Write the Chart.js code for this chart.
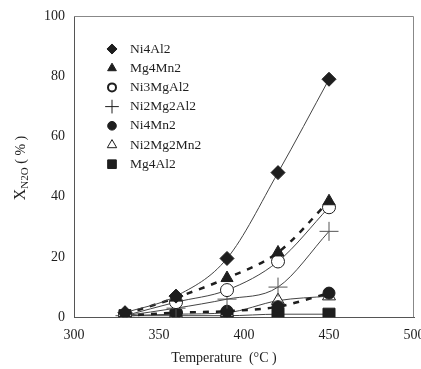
<!DOCTYPE html>
<html>
<head>
<meta charset="utf-8">
<script src="https://cdn.jsdelivr.net/npm/chart.js@4/dist/chart.umd.min.js"></script>
<style>
  body { margin: 0; background: #fff; }
  #wrap { width: 421px; height: 369px; }
</style>
</head>
<body>
<div id="wrap"><canvas id="chart"></canvas></div>
<script>
// data
const temps = [330, 360, 390, 420, 450];
const ni4al2 = [1.5, 7, 19.5, 48, 79];
const mg4mn2 = [1, 6.5, 13, 21.5, 38.5];
const ni3mgal2 = [0.5, 5, 9, 18.5, 36.5];
const ni2mg2al2 = [0.5, 3, 6, 10, 28.5];
const ni4mn2 = [0.5, 1.5, 2, 3.5, 8];
const ni2mg2mn2 = [0.5, 1, 1.5, 5.5, 7];
const mg4al2 = [0.5, 0.5, 0.5, 1, 1];
const xTicks = [300, 350, 400, 450, 500];
const yTicks = [0, 20, 40, 60, 80, 100];

const FONT = "'Liberation Serif', 'Times New Roman', serif";
const INK = "#1e1e1e";
const LINE = "#444";

function pts(vals) {
  return temps.map((t, i) => ({ x: t, y: vals[i] }));
}

function series(label, vals, style, radius, filled, dashed) {
  return {
    label: label,
    data: pts(vals),
    showLine: true,
    borderColor: dashed ? INK : LINE,
    borderWidth: dashed ? 2.5 : 1,
    borderDash: dashed ? [6, 7] : [],
    tension: 0.4,
    cubicInterpolationMode: "monotone",
    pointStyle: style,
    pointRadius: radius,
    pointHoverRadius: radius,
    pointBackgroundColor: filled ? INK : "#fff",
    pointBorderColor: style === "cross" ? "#555" : INK,
    pointBorderWidth: 1,
  };
}

const datasets = [
  series("Ni4Al2", ni4al2, "rectRot", 7, true, false),
  series("Mg4Mn2", mg4mn2, "triangle", 7, true, true),
  series("Ni3MgAl2", ni3mgal2, "circle", 6.5, false, false),
  series("Ni2Mg2Al2", ni2mg2al2, "cross", 9.5, false, false),
  series("Ni4Mn2", ni4mn2, "circle", 6, true, true),
  series("Ni2Mg2Mn2", ni2mg2mn2, "triangle", 7.5, false, false),
  series("Mg4Al2", mg4al2, "rect", 8.5, true, false),
];

// legend drawn inside the plot, titles drawn by hand (subscript)
const extras = {
  id: "extras",
  afterDraw(chart) {
    const ctx = chart.ctx;
    const a = chart.chartArea;
    ctx.save();
    // box border top/right
    ctx.strokeStyle = "#888";
    ctx.lineWidth = 1;
    ctx.beginPath();
    ctx.moveTo(a.left, a.top + 0.5);
    ctx.lineTo(a.right - 0.5, a.top + 0.5);
    ctx.lineTo(a.right - 0.5, a.bottom);
    ctx.stroke();

    // legend
    ctx.font = "13.5px " + FONT;
    ctx.textBaseline = "middle";
    chart.data.datasets.forEach((ds, i) => {
      const y = 49 + i * 19.2;
      const open = ds.label === "Ni3MgAl2";
      const r = open ? 4 : ds.pointRadius * 0.72;
      ctx.fillStyle = ds.pointBackgroundColor;
      ctx.strokeStyle = INK;
      ctx.lineWidth = open ? 2 : 1;
      Chart.helpers.drawPoint(ctx, {
        pointStyle: ds.pointStyle,
        radius: r,
        rotation: 0,
        borderWidth: ctx.lineWidth,
      }, 112, y);
      ctx.fillStyle = INK;
      ctx.fillText(ds.label, 130, y);
    });

    // x title
    ctx.textAlign = "center";
    ctx.font = "14px " + FONT;
    ctx.fillText("Temperature  (\u00B0C )", 224, 358);

    // y title with subscript
    ctx.translate(21, 168);
    ctx.rotate(-Math.PI / 2);
    ctx.textAlign = "left";
    ctx.font = "16px " + FONT;
    const wX = ctx.measureText("X").width;
    ctx.font = "11px " + FONT;
    const wSub = ctx.measureText("N2O").width;
    ctx.font = "14px " + FONT;
    const wP = ctx.measureText(" ( % )").width;
    const x0 = -(wX + wSub + wP) / 2;
    ctx.font = "16px " + FONT;
    ctx.fillText("X", x0, 0);
    ctx.font = "11px " + FONT;
    ctx.fillText("N2O", x0 + wX, 4);
    ctx.font = "14px " + FONT;
    ctx.fillText(" ( % )", x0 + wX + wSub, 0);
    ctx.restore();
  },
};

new Chart(document.getElementById("chart"), {
  type: "scatter",
  data: { datasets: datasets },
  options: {
    responsive: true,
    maintainAspectRatio: false,
    animation: false,
    layout: { autoPadding: false, padding: { left: 40, top: 16, right: 7, bottom: 20 } },
    plugins: { legend: { display: false }, tooltip: { enabled: false } },
    scales: {
      x: {
        type: "linear",
        min: 300,
        max: 500,
        afterBuildTicks: (s) => { s.ticks = xTicks.map((v) => ({ value: v })); },
        // let the "500" label run off the edge, as in the original
        afterFit: (s) => { s.paddingRight = 0; },
        grid: { display: false, drawTicks: true, tickLength: 5, tickColor: "#555" },
        border: { color: "#555", width: 1 },
        ticks: { color: INK, padding: 5, font: { family: FONT, size: 14 }, maxRotation: 0 },
      },
      y: {
        min: 0,
        max: 100,
        afterBuildTicks: (s) => { s.ticks = yTicks.map((v) => ({ value: v })); },
        grid: { display: false, drawTicks: true, tickLength: 5, tickColor: "#555" },
        border: { color: "#555", width: 1 },
        ticks: { color: INK, padding: 4, font: { family: FONT, size: 14 } },
      },
    },
  },
  plugins: [extras],
});
</script>
</body>
</html>
